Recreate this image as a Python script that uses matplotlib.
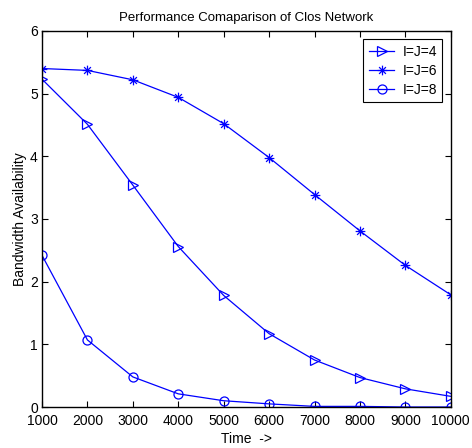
import matplotlib
matplotlib.use('Agg')
import matplotlib.pyplot as plt
from matplotlib.path import Path

plt.rcParams['font.family'] = ['Liberation Sans', 'DejaVu Sans']

# values
time = [1000, 2000, 3000, 4000, 5000, 6000, 7000, 8000, 9000, 10000]
ij4 = [5.23, 4.51, 3.54, 2.56, 1.78, 1.17, 0.75, 0.47, 0.29, 0.17]
ij6 = [5.40, 5.37, 5.22, 4.94, 4.52, 3.98, 3.39, 2.81, 2.26, 1.79]
ij8 = [2.42, 1.07, 0.48, 0.21, 0.10, 0.05, 0.01, 0.01, 0.0, 0.0]

# matlab style asterisk: plus + cross
d = 0.7
asterisk = Path([(-1, 0), (1, 0), (0, -1), (0, 1), (-d, -d), (d, d), (-d, d), (d, -d)],
                [Path.MOVETO, Path.LINETO] * 4)

fig = plt.figure(figsize=(4.72, 4.48), dpi=100)
ax = fig.add_axes([0.089, 0.0915, 0.866, 0.8395])

ax.plot(time, ij4, '->', color='b', lw=0.9, ms=7, mfc='none', mew=0.9, label='I=J=4')
ax.plot(time, ij6, '-', marker=asterisk, color='b', lw=0.9, ms=7, mfc='none', mew=0.9, label='I=J=6')
ax.plot(time, ij8, '-o', color='b', lw=0.9, ms=6.5, mfc='none', mew=0.9, label='I=J=8')

ax.set_xlim(1000, 10000)
ax.set_ylim(0, 6)
ax.set_xticks(time)
ax.set_yticks(range(0, 7))
ax.tick_params(direction='in', top=True, right=True, labelsize=10, length=4)
ax.tick_params(axis='x', pad=5)
ax.tick_params(axis='y', pad=3)
for s in ax.spines.values():
    s.set_linewidth(1.0)

ax.set_title('Performance Comaparison of Clos Network', fontsize=9.5, pad=7)
ax.set_xlabel('Time  ->', fontsize=10, labelpad=3)
ax.set_ylabel('Bandwidth Availability', fontsize=10, labelpad=2)

leg = ax.legend(loc='upper right', fontsize=10, fancybox=False, framealpha=1,
                edgecolor='k', handlelength=1.8, handletextpad=0.6,
                borderaxespad=0.6, labelspacing=0.35)
leg.get_frame().set_linewidth(0.8)

fig.savefig('out.png', dpi=100)
